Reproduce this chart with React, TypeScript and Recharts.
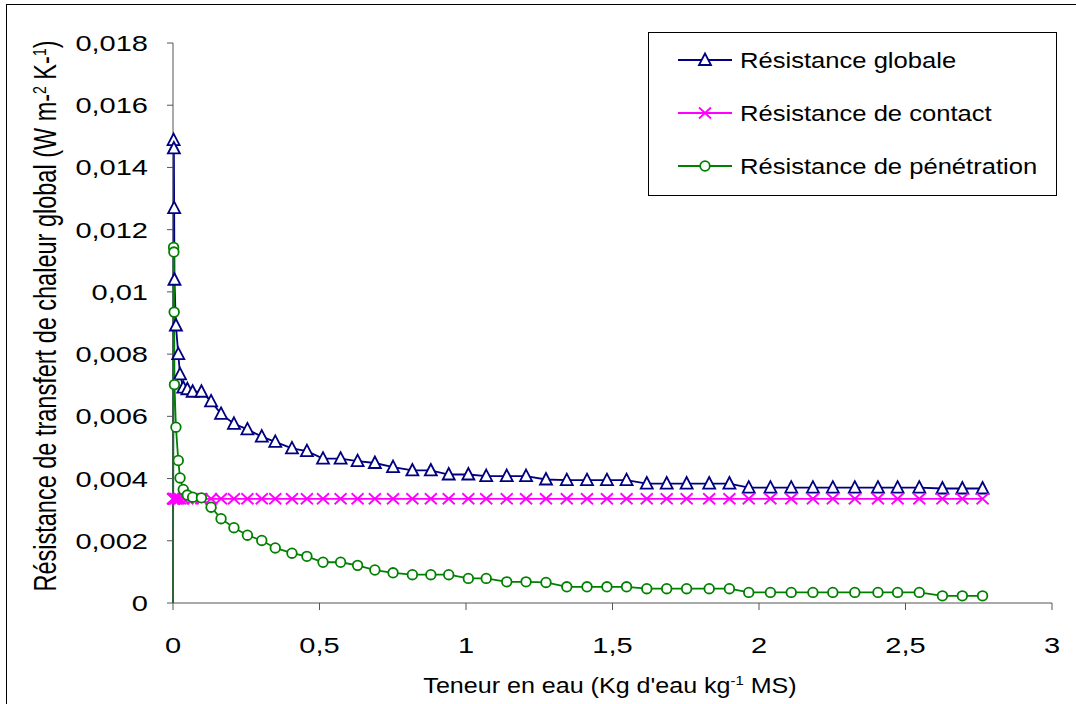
import React from "react";
import { LineChart, Line, XAxis, YAxis } from "recharts";

// teneur en eau (kg d'eau / kg MS)
const teneur = [
  0, 0.002, 0.003, 0.004, 0.005, 0.01, 0.018, 0.024, 0.035, 0.049, 0.067, 0.097,
  0.13, 0.164, 0.208, 0.254, 0.303, 0.349, 0.406, 0.457, 0.512, 0.572, 0.63, 0.689,
  0.751, 0.817, 0.88, 0.941, 1.008, 1.069, 1.139, 1.205, 1.273, 1.344, 1.413, 1.481,
  1.548, 1.617, 1.685, 1.753, 1.83, 1.899, 1.965, 2.039, 2.11, 2.184, 2.252, 2.327,
  2.406, 2.473, 2.547, 2.626, 2.694, 2.763,
];

const globale = [
  0, 0.01488, 0.01461, 0.01269, 0.01039, 0.00892, 0.008, 0.00735, 0.00692, 0.00687,
  0.00679, 0.00679, 0.00648, 0.00608, 0.00576, 0.00558, 0.00535, 0.00518, 0.00497,
  0.00488, 0.00464, 0.00464, 0.00456, 0.0045, 0.00437, 0.00426, 0.00426, 0.00413,
  0.00413, 0.00408, 0.00408, 0.00408, 0.00397, 0.00395, 0.00395, 0.00395, 0.00395,
  0.00384, 0.00384, 0.00384, 0.00384, 0.00384, 0.00371, 0.00371, 0.00371, 0.00371,
  0.00371, 0.00371, 0.00371, 0.00371, 0.00371, 0.00368, 0.00368, 0.00368,
];

const contact = [
  0.00335, 0.00335, 0.00335, 0.00335, 0.00335, 0.00335, 0.00335, 0.00335, 0.00335,
  0.00335, 0.00335, 0.00335, 0.00335, 0.00335, 0.00335, 0.00335, 0.00335, 0.00335,
  0.00335, 0.00335, 0.00335, 0.00335, 0.00335, 0.00335, 0.00335, 0.00335, 0.00335,
  0.00335, 0.00335, 0.00335, 0.00335, 0.00335, 0.00335, 0.00335, 0.00335, 0.00335,
  0.00335, 0.00335, 0.00335, 0.00335, 0.00335, 0.00335, 0.00335, 0.00335, 0.00335,
  0.00335, 0.00335, 0.00335, 0.00335, 0.00335, 0.00335, 0.00335, 0.00335, 0.00335,
];

const penetration = [
  0, 0.01143, 0.01128, 0.00935, 0.00702, 0.00565, 0.00458, 0.00402, 0.00365, 0.00347,
  0.0034, 0.00338, 0.00308, 0.00271, 0.00242, 0.00218, 0.00201, 0.00177, 0.0016,
  0.0015, 0.00131, 0.00131, 0.00121, 0.00106, 0.00097, 0.00091, 0.00091, 0.00091,
  0.00079, 0.00079, 0.00068, 0.00068, 0.00066, 0.00052, 0.00052, 0.00052, 0.00052,
  0.00046, 0.00046, 0.00046, 0.00046, 0.00046, 0.00034, 0.00034, 0.00034, 0.00034,
  0.00034, 0.00034, 0.00034, 0.00034, 0.00034, 0.00023, 0.00023, 0.00023,
];

const xTicks = [0, 0.5, 1, 1.5, 2, 2.5, 3];
const yTicks = [0, 0.002, 0.004, 0.006, 0.008, 0.01, 0.012, 0.014, 0.016, 0.018];

const series = [
  { key: "globale", name: "Résistance globale", color: "#000080", marker: "triangle" },
  { key: "contact", name: "Résistance de contact", color: "#ff00ff", marker: "cross" },
  { key: "penetration", name: "Résistance de pénétration", color: "#008000", marker: "circle" },
];

const data = teneur.map((x, i) => ({
  x,
  globale: globale[i],
  contact: contact[i],
  penetration: penetration[i],
}));

const FONT = "'Liberation Sans', Arial, sans-serif";
const AXIS = "#555";
const fmt = (v: number) => String(v).replace(".", ",");

function Marker({ kind, cx, cy, color }: any) {
  if (kind === "triangle")
    return (
      <path
        d={`M${cx},${cy - 6.5} L${cx + 6},${cy + 5} L${cx - 6},${cy + 5} Z`}
        fill="#fff"
        stroke={color}
        strokeWidth={1.8}
      />
    );
  if (kind === "cross")
    return (
      <path
        d={`M${cx - 6},${cy - 5.5} L${cx + 6},${cy + 5.5} M${cx - 6},${cy + 5.5} L${cx + 6},${cy - 5.5}`}
        stroke={color}
        strokeWidth={1.8}
        fill="none"
      />
    );
  return <circle cx={cx} cy={cy} r={4.8} fill="#fff" stroke={color} strokeWidth={1.8} />;
}

// stretched text, the original picture is wider than its fonts
function SText({ x, y, sx = 1, sy = 1, rotate = 0, anchor = "start", size = 22, children }: any) {
  const t = `translate(${x},${y})${rotate ? ` rotate(${rotate})` : ""} scale(${sx},${sy})`;
  return (
    <text transform={t} textAnchor={anchor} fontSize={size} fontFamily={FONT} fill="#000">
      {children}
    </text>
  );
}

function LegendBox() {
  return (
    <div
      style={{
        position: "absolute",
        left: 648,
        top: 32,
        width: 407,
        height: 162,
        border: "1px solid #000",
        background: "#fff",
      }}
    >
      <svg width={407} height={162}>
        {series.map((s, i) => {
          const cy = 27 + i * 53;
          return (
            <g key={s.key}>
              <line x1={29} x2={83} y1={cy} y2={cy} stroke={s.color} strokeWidth={1.8} />
              <Marker kind={s.marker} cx={56} cy={cy} color={s.color} />
              <SText x={91} y={cy + 7.5} sx={1.19} size={21.5}>
                {s.name}
              </SText>
            </g>
          );
        })}
      </svg>
    </div>
  );
}

export default function App() {
  return (
    <div style={{ position: "absolute", left: 0, top: 0, width: 1076, height: 704, background: "#fff" }}>
      <div
        style={{
          position: "absolute",
          left: 6,
          top: 4,
          width: 1080,
          height: 720,
          borderTop: "1px solid #000",
          borderLeft: "1px solid #000",
        }}
      />
      <LineChart
        width={1076}
        height={704}
        data={data}
        margin={{ top: 43, right: 24, bottom: 41, left: 113 }}
      >
        <XAxis
          dataKey="x"
          type="number"
          domain={[0, 3]}
          ticks={xTicks}
          height={60}
          stroke={AXIS}
          tickSize={7}
          tick={(p: any) => (
            <SText x={p.x} y={653} anchor="middle" sx={1.29} size={22.5}>
              {fmt(p.payload.value)}
            </SText>
          )}
        />
        <YAxis
          type="number"
          domain={[0, 0.018]}
          ticks={yTicks}
          width={60}
          stroke={AXIS}
          tickSize={6}
          interval={0}
          tick={(p: any) => (
            <SText x={148} y={p.y + 8} anchor="end" sx={1.29} size={22.5}>
              {fmt(p.payload.value)}
            </SText>
          )}
        />
        {series.map((s) => (
          <Line
            key={s.key}
            dataKey={s.key}
            name={s.name}
            type="linear"
            stroke={s.color}
            strokeWidth={1.8}
            isAnimationActive={false}
            dot={(p: any) =>
              p.index === 0 && s.marker !== "cross" ? (
                <g key={`${s.key}-${p.index}`} />
              ) : (
                <Marker key={`${s.key}-${p.index}`} kind={s.marker} cx={p.cx} cy={p.cy} color={s.color} />
              )
            }
            activeDot={false}
          />
        ))}
        <SText x={610} y={693} anchor="middle" sx={1.14} size={22}>
          Teneur en eau (Kg d'eau kg
          <tspan dy={-8} fontSize={13}>-1</tspan>
          <tspan dy={8}> MS)</tspan>
        </SText>
        <SText x={56} y={316} rotate={-90} anchor="middle" sy={1.3} size={23.5}>
          Résistance de transfert de chaleur global (W m-
          <tspan dy={-8} fontSize={14}>2</tspan>
          <tspan dy={8}> K-</tspan>
          <tspan dy={-8} fontSize={14}>1</tspan>
          <tspan dy={8}>)</tspan>
        </SText>
      </LineChart>
      <LegendBox />
    </div>
  );
}
